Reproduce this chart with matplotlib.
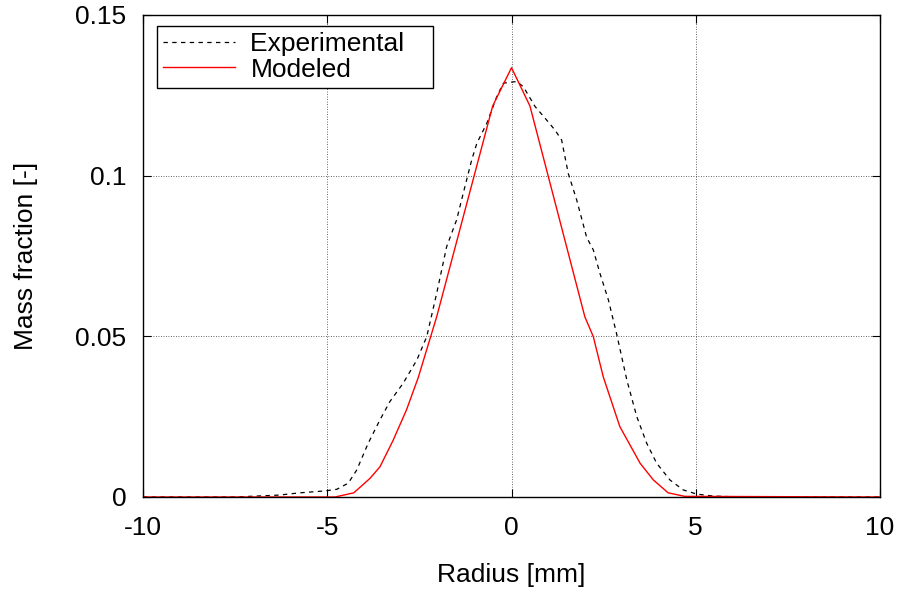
import numpy as np
import matplotlib.pyplot as plt

plt.rcParams['font.family'] = ['Liberation Sans', 'DejaVu Sans']
plt.rcParams['axes.unicode_minus'] = False

# Experimental profile
exp_r = [-10, -7.5, -6.3, -5.74, -5.06, -4.74, -4.43, -4.2, -3.89, -3.57, -3.3,
         -2.94, -2.57, -2.3, -2.03, -1.76, -1.49, -1.31, -1.08, -0.94, -0.67,
         -0.40, -0.22, 0.14, 0.32, 0.64, 0.91, 1.18, 1.36, 1.54, 1.77, 2.04,
         2.22, 2.4, 2.63, 2.85, 3.13, 3.4, 3.67, 3.94, 4.3, 4.66, 5.03, 5.47,
         6.2, 10]
exp_mf = [0, 0, 0.0006, 0.0013, 0.0019, 0.0024, 0.0043, 0.0084, 0.0167, 0.024,
          0.0297, 0.0354, 0.0426, 0.0499, 0.0634, 0.0779, 0.0862, 0.0945,
          0.1049, 0.1101, 0.1163, 0.1246, 0.1288, 0.1293, 0.1277, 0.1215,
          0.1179, 0.1142, 0.1111, 0.1007, 0.0924, 0.0808, 0.0769, 0.0696,
          0.0613, 0.0509, 0.0364, 0.025, 0.0167, 0.0105, 0.0053, 0.0022,
          0.0009, 0.0003, 0, 0]

# Modeled profile
mod_r = [-10, -4.79, -4.28, -3.84, -3.57, -3.21, -2.85, -2.53, -2.03, -0.51,
         0, 0.5, 1.99, 2.22, 2.49, 2.94, 3.49, 3.85, 4.25, 4.7, 10]
mod_mf = [0, 0, 0.0013, 0.0058, 0.0094, 0.0177, 0.0271, 0.0372, 0.0561,
          0.1217, 0.1336, 0.1217, 0.0561, 0.0499, 0.0374, 0.0219, 0.0105,
          0.0053, 0.0013, 0.0002, 0]

fs = 19

fig = plt.figure(figsize=(9.02, 5.90), dpi=100)
ax = fig.add_axes([143 / 902, 1 - 497 / 590, 737 / 902, 482 / 590])

ax.plot(exp_r, exp_mf, color='black', lw=0.9, dashes=(3.5, 3.5), label='Experimental   ')
ax.plot(mod_r, mod_mf, color='red', lw=1.0, label='Modeled')

ax.set_xlim(-10, 10)
ax.set_ylim(0, 0.15)
ax.set_xticks([-10, -5, 0, 5, 10])
ax.set_yticks([0, 0.05, 0.1, 0.15])
ax.set_yticklabels(['0', '0.05', '0.1', '0.15'])
ax.grid(True, color='black', lw=0.6, linestyle=(0, (1, 2)), alpha=0.8)
ax.tick_params(direction='in', length=6, width=0.8, top=True, right=True,
               labelsize=fs)
ax.tick_params(axis='y', pad=12)
ax.tick_params(axis='x', pad=14)
for s in ax.spines.values():
    s.set_linewidth(1.0)

ax.set_xlabel('Radius [mm]', fontsize=fs, labelpad=16)
ax.set_ylabel('Mass fraction [-]', fontsize=fs, labelpad=27)

leg = ax.legend(loc='upper left', bbox_to_anchor=(156.7 / 902, 1 - 25.7 / 590),
                bbox_transform=fig.transFigure, fontsize=fs, fancybox=False,
                framealpha=1, edgecolor='black', handlelength=2.7,
                handletextpad=0.6, borderpad=0.25, labelspacing=0.05,
                borderaxespad=0)
leg.get_frame().set_linewidth(1.0)

fig.savefig('out.png', dpi=100)
